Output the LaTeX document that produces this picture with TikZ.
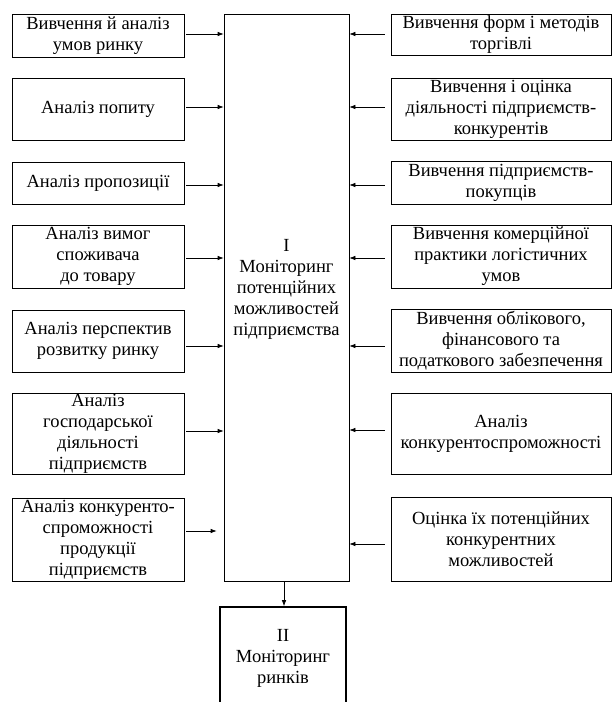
\documentclass[tikz,border=0pt]{standalone}
\usepackage{fontspec}
\setmainfont{Liberation Serif}
\usetikzlibrary{arrows.meta,calc}
\tikzset{
  box/.style={draw=black, line width=0.7pt, align=center, inner sep=0pt,
    font=\fontsize{18.5}{21}\selectfont},
  lbox/.style={box, minimum width=172pt},
  rbox/.style={box, minimum width=220pt},
  arr/.style={line width=0.7pt, -{Latex[length=6pt,width=4.5pt]}}
}
\begin{document}
\begin{tikzpicture}[x=1pt,y=-1pt]
\useasboundingbox (0,0) rectangle (612,702);
% centre box
\node[box, minimum width=125pt, minimum height=567pt] (C) at (286.5,297.5) {};
\node[box, draw=none] (Ct) at (286.5,289) {I\\Моніторинг\\потенційних\\можливостей\\підприємства};
% left boxes
\node[lbox, minimum height=43pt] (L1) at (98,35.5) {Вивчення й аналіз\\умов ринку};
\node[lbox, minimum height=62pt] (L2) at (98,109) {Аналіз попиту};
\node[lbox, minimum height=42pt] (L3) at (98,183) {Аналіз пропозиції};
\node[lbox, minimum height=63pt] (L4) at (98,256.5) {Аналіз вимог\\споживача\\до товару};
\node[lbox, minimum height=62pt] (L5) at (98,341) {Аналіз перспектив\\розвитку ринку};
\node[lbox, minimum height=81pt] (L6) at (98,433.5) {Аналіз\\господарської\\діяльності\\підприємств};
\node[lbox, minimum height=83pt] (L7) at (98,539.5) {Аналіз конкуренто-\\спроможності\\продукції\\підприємств};
% right boxes
\node[rbox, minimum height=41pt] (R1) at (501,34.5) {Вивчення форм і методів\\торгівлі};
\node[rbox, minimum height=62pt] (R2) at (501,109) {Вивчення і оцінка\\діяльності підприємств-\\конкурентів};
\node[rbox, minimum height=43pt] (R3) at (501,182.5) {Вивчення підприємств-\\покупців};
\node[rbox, minimum height=63pt] (R4) at (501,256.5) {Вивчення комерційної\\практики логістичних\\умов};
\node[rbox, minimum height=63pt] (R5) at (501,340.5) {Вивчення облікового,\\фінансового та\\податкового забезпечення};
\node[rbox, minimum height=81pt] (R6) at (501,433.5) {Аналіз\\конкурентоспроможності};
\node[rbox, minimum height=84pt] (R7) at (501,539) {Оцінка їх потенційних\\конкурентних\\можливостей};
% bottom box
\node[box, line width=1.6pt, minimum width=126pt, minimum height=98pt] (B) at (283,656) {};
\node[box, draw=none] (Bt) at (283,658) {II\\Моніторинг\\ринків};
% left arrows
\coordinate (a1) at ($(L1.east)+(2,-1.5)$);
\coordinate (a2) at ($(L2.east)+(2,-2)$);
\coordinate (a3) at ($(L3.east)+(2,2)$);
\coordinate (a4) at ($(L4.east)+(2,1.5)$);
\coordinate (a5) at ($(L5.east)+(2,5)$);
\coordinate (a6) at ($(L6.east)+(2,-2.5)$);
\coordinate (a7) at ($(L7.east)+(2,-8.5)$);
\coordinate (a7e) at ($(a7 -| C.west)+(-7,0)$);
\foreach \i in {1,...,6} {\draw[arr] (a\i) -- (a\i -| C.west);}
\draw[arr] (a7) -- (a7e);
% right arrows
\coordinate (b1) at ($(R1.west)+(-6,-0.5)$);
\coordinate (b2) at ($(R2.west)+(-6,-2)$);
\coordinate (b3) at ($(R3.west)+(-6,2.5)$);
\coordinate (b4) at ($(R4.west)+(-6,1.5)$);
\coordinate (b5) at ($(R5.west)+(-6,5.5)$);
\coordinate (b6) at ($(R6.west)+(-6,-3.5)$);
\coordinate (b7) at ($(R7.west)+(-6,5)$);
\foreach \i in {1,...,7} {\draw[arr] (b\i) -- (b\i -| C.east);}
% down arrow
\coordinate (d0) at ($(C.south)+(-2.5,0)$);
\draw[arr] (d0) -- (d0 |- B.north);
\end{tikzpicture}
\end{document}
